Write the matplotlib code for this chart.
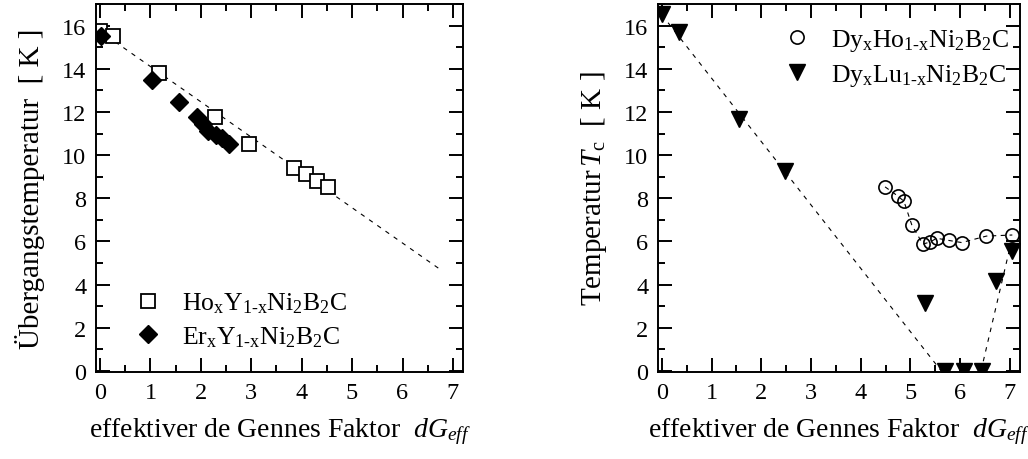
import matplotlib
matplotlib.use("Agg")
import matplotlib.pyplot as plt
from matplotlib.ticker import MultipleLocator

plt.rcParams['font.family'] = 'Liberation Serif'
plt.rcParams['mathtext.fontset'] = 'custom'
plt.rcParams['mathtext.rm'] = 'Liberation Serif'
plt.rcParams['mathtext.it'] = 'Liberation Serif:italic'

# left panel: HoxY1-xNi2B2C and ErxY1-xNi2B2C
ho_x = [0.0, 0.26, 1.16, 2.28, 2.95, 3.84, 4.08, 4.3, 4.52]
ho_tc = [15.75, 15.54, 13.82, 11.78, 10.53, 9.41, 9.14, 8.8, 8.54]
er_x = [0.02, 1.04, 1.56, 1.93, 2.05, 2.15, 2.3, 2.42, 2.55]
er_tc = [15.5, 13.46, 12.48, 11.75, 11.45, 11.1, 10.95, 10.8, 10.5]
fit_left_x = [0.3, 6.72]
fit_left_y = [15.25, 4.75]

# right panel: DyxHo1-xNi2B2C and DyxLu1-xNi2B2C
dyho_x = [4.49, 4.75, 4.87, 5.03, 5.25, 5.39, 5.53, 5.77, 6.03, 6.53, 7.05]
dyho_tc = [8.53, 8.1, 7.86, 6.75, 5.88, 5.97, 6.15, 6.05, 5.95, 6.25, 6.3]
dylu_x = [0.0, 0.34, 1.56, 2.48, 5.29, 5.7, 6.07, 6.43, 6.73, 7.05]
dylu_tc = [16.56, 15.7, 11.69, 9.28, 3.15, 0.0, 0.0, 0.0, 4.17, 5.56]
fit_right1_x = [0.0, 5.62]
fit_right1_y = [16.5, 0.0]
fit_right2_x = [6.42, 7.0]
fit_right2_y = [0.0, 5.7]

fig = plt.figure(figsize=(10.28, 4.6), dpi=100)
ax1 = fig.add_axes([0.0934, 0.189, 0.357, 0.8])
ax2 = fig.add_axes([0.640, 0.189, 0.352, 0.8])

dash = dict(color='black', lw=0.8, linestyle=(0, (4, 5)))

ax1.plot(fit_left_x, fit_left_y, **dash, zorder=1)
ax1.plot(ho_x, ho_tc, 's', ms=9.5, mfc='white', mec='black', mew=1.3,
         linestyle='none', label=r'Ho$_\mathrm{x}$Y$_{1\text{-}\mathrm{x}}$Ni$_2$B$_2$C', zorder=2)
ax1.plot(er_x, er_tc, 'D', ms=9, mfc='black', mec='black',
         linestyle='none', label=r'Er$_\mathrm{x}$Y$_{1\text{-}\mathrm{x}}$Ni$_2$B$_2$C', zorder=3)

ax2.plot(fit_right1_x, fit_right1_y, **dash, zorder=1)
ax2.plot(fit_right2_x, fit_right2_y, **dash, zorder=1)
ax2.plot(dyho_x, dyho_tc, color='black', lw=0.8, linestyle=(0, (4, 4)), zorder=1)
ax2.plot(dyho_x, dyho_tc, 'o', ms=9.5, mfc='none', mec='black', mew=1.2,
         linestyle='none', label=r'Dy$_\mathrm{x}$Ho$_{1\text{-}\mathrm{x}}$Ni$_2$B$_2$C', zorder=2)
ax2.plot(dylu_x, dylu_tc, 'v', ms=12, mfc='black', mec='black',
         linestyle='none', label=r'Dy$_\mathrm{x}$Lu$_{1\text{-}\mathrm{x}}$Ni$_2$B$_2$C', zorder=3)

for ax in (ax1, ax2):
    ax.set_xlim(-0.08, 7.2)
    ax.set_ylim(-0.05, 17)
    ax.xaxis.set_major_locator(MultipleLocator(1))
    ax.xaxis.set_minor_locator(MultipleLocator(0.5))
    ax.yaxis.set_major_locator(MultipleLocator(2))
    ax.yaxis.set_minor_locator(MultipleLocator(1))
    ax.tick_params(which='both', direction='in', top=True, right=True,
                   width=1.4, labelsize=17.5, pad=7)
    ax.tick_params(which='major', length=10)
    ax.tick_params(which='minor', length=5)
    for s in ax.spines.values():
        s.set_linewidth(1.4)
    ax.set_xlabel(r'effektiver de Gennes Faktor  $dG_{eff}$', fontsize=20, labelpad=9)

ax1.set_ylabel('Übergangstemperatur  [ K ]', fontsize=21, labelpad=12)
ax2.set_ylabel(r'Temperatur$\,T_\mathrm{c}$  [ K ]', fontsize=21, labelpad=11)

ax1.legend(loc='lower left', bbox_to_anchor=(0.025, 0.0), frameon=False,
           fontsize=18.5, handletextpad=0.6, labelspacing=0.35, handlelength=1.5)
ax2.legend(loc='upper right', bbox_to_anchor=(1.035, 1.0), frameon=False,
           fontsize=18.5, handletextpad=0.6, labelspacing=0.35, handlelength=1.5)

fig.savefig('out.png', dpi=100)
